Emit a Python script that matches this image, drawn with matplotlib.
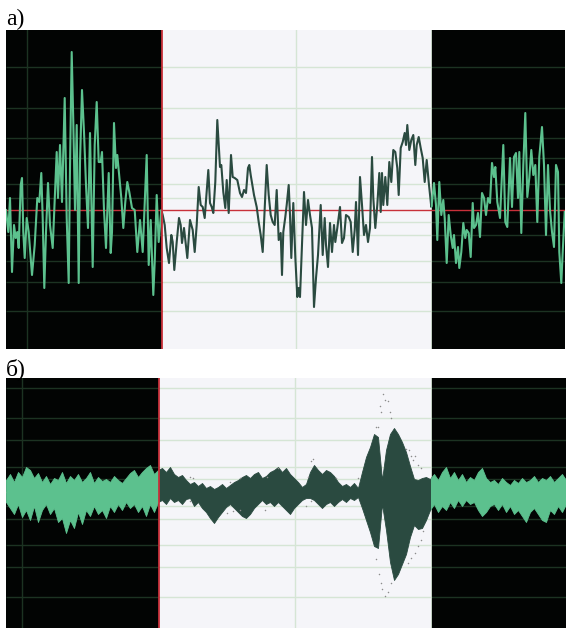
import numpy as np
import matplotlib.pyplot as plt
from matplotlib.patches import Rectangle

# colours
black_bg = '#020403'
light_bg = '#f5f5f9'
grid_dark = '#1c3322'
grid_light = '#d5e5d5'
red = '#c8303a'
green = '#5cc18e'
dark = '#2a4a40'

## а) raw signal: left part, analysis window, right part ##
a_left_t = [6.0, 8.3, 10, 12, 14, 15.7, 17.3, 18.7, 20.7, 22, 23.3, 24.7, 26.7, 28.7, 32, 34.7,
            37.3, 39.3, 41.3, 42.7, 44.3, 46, 48, 50, 52.7, 55.3, 56.7, 58, 60, 62, 64.7, 66.7,
            68.7, 70, 71.7, 73.3, 75, 76.7, 78.7, 80, 82, 84, 86, 88, 90, 92.7, 94.7, 96.7,
            98.7, 100.7, 102, 104, 106, 108.7, 110.7, 112, 114, 116, 117.3, 119.3, 121.3, 123.3,
            125.3, 127.3, 129.3, 132, 134.7, 137.3, 140, 142.7, 146.7, 148.7, 150.7, 153.3,
            154.7, 156.7, 158.7, 161.3]
a_left_v = [0, -22, 12, -62, -15, -28, -22, -38, 25, 32, -22, -48, -8, -22, -65, -35,
            12, 8, 37, -8, -78, -22, 27, -15, -38, 25, 58, 12, 65, 8, 112, -8,
            -73, 42, 158, 88, 0, 85, -73, 48, 120, 78, 25, -18, 77, -57, 65, 108,
            48, 48, 58, 0, -38, 37, -43, -22, 87, 42, 55, 33, 12, -18,
            8, 28, 18, 2, 0, -42, -10, -42, 55, -55, -10, -85,
            -52, 15, -32, 0]

a_mid_t = [162.7, 164.7, 166.7, 169, 171.3, 172.7, 174.3, 176.7, 179, 180.7, 182, 184, 185.3,
           187.3, 190, 192.7, 194.7, 196.7, 198.7, 200.7, 202.7, 204.7, 206.7, 208.3, 210,
           211.7, 213.3, 215.3, 217.3, 218.7, 220, 221.3, 223.3, 225.3, 226.7, 228.7, 231,
           232.7, 234.7, 237.3, 240, 242, 244, 246, 248, 249.3, 250.7, 252, 254, 256.7, 258.7,
           260.7, 262.7, 264.7, 266.7, 268.7, 270.7, 272.7, 274.7, 276.7, 278.7, 280.7, 282,
           283.3, 285.3, 286.7, 288.7, 290, 291.3, 293.3, 295.3, 297.3, 298.7, 300, 302, 304,
           306, 308, 310, 312, 314, 316, 318, 320.7, 322.7, 324.7, 326, 328, 330, 332, 334,
           335.3, 337.3, 340, 342, 344, 346, 348.7, 350.7, 352.7, 354.7, 356, 358, 360, 362,
           364, 366, 368, 370, 372, 373.3, 375.3, 377.3, 379.3, 380.7, 382, 383.3, 385.3,
           387.3, 389.3, 391.3, 393.3, 395.3, 397.3, 398.7, 400.7, 402.7, 404.7, 406, 407.3,
           409.3, 411.3, 413.3, 415.3, 416.7, 418.7, 420.7, 422.7, 424.7, 426.7, 428.7, 431.3]
a_mid_v = [-5, -15, -38, -53, -25, -32, -60, -32, -8, -15, -33, -18, -30,
           -48, -10, -20, -42, -15, 23, 5, 3, -8, 18, 40, 7,
           3, -3, 28, 90, 65, 43, 45, 18, 2, 30, -3, 55,
           33, 32, 30, 17, 13, 20, 17, 42, 45, 35, 27, 15, 3, -12,
           -25, -42, 2, 45, 15, -5, -12, -15, 20, -30, -23, -65,
           -22, -7, 5, 25, -5, -48, 7, -47, -87, -78, -87, -35, 18,
           -15, 10, -5, -18, -97, -68, -45, 5, -45, -8, -35, -57, -13, -42, -15,
           -32, -18, 3, -33, -28, -5, -7, -12, -42, -20, 8, -45, 33, 5,
           -25, -15, -32, -18, 53, 12, -18, 5, 37, -2, 37, 5, 33,
           5, 48, 28, 60, 58, 42, 15, 62, 68, 77, 65, 85,
           60, 70, 75, 45, 65, 73, 62, 52, 28, 50, 28, 3]

a_right_t = [431.7, 434, 436, 437.3, 439.3, 441.3, 443.3, 444.7, 446.7, 448.7, 450.7, 452.7, 454,
             456, 458, 459.3, 461.3, 463.3, 465.3, 466.7, 468.7, 470.7, 472.7, 474, 476, 478,
             480, 482, 484, 486, 488, 490, 492, 494, 495.3, 497.3, 500, 503.3, 505.3, 507.3,
             510, 512, 514, 516, 518, 519.3, 521.3, 523.3, 525.3, 527.3, 529.3, 531.3, 533.3,
             535.3, 537.3, 539.3, 542, 544, 546, 548, 550, 552, 554, 556, 558, 559.3, 561.3,
             562.7, 564.7]
a_right_v = [5, 27, 5, -30, 28, -5, 10, -8, -53, -5, -25, -38, -25,
             -53, -37, -58, -42, -13, -28, -20, -23, -47, 7, -18, -15, -3,
             -27, 17, 12, -5, 12, 7, 47, 33, 43, 8, -8, 65, -12, -17,
             52, 3, 53, 57, 12, 58, -23, 45, 97, 13, 32, 60, 35,
             45, -12, 53, 83, 45, -25, 45, 0, -22, -37, 45, 38, -42, -73,
             -42, -2]

a_grid = [143, 102, 72, 52, 26, 12, -12, -25, -51, -72, -101]
a_vgrid = [27, 296]

## б) envelope of the filtered signal, one value every 4 samples ##
b_t0, b_dt = 6, 4
b_upper = [12, 18, 10, 20, 15, 25, 22, 14, 19, 10, 16, 8, 14, 12, 20, 9, 16, 12, 18, 10,
           14, 20, 9, 15, 11, 13, 10, 16, 12, 9, 14, 19, 22, 15, 20, 24, 27, 18, 22,
           24, 20, 25, 18, 15, 17, 12, 8, 10, 6, 9, 4, 6, 3, 5, 8, 4, 7, 10, 12,
           15, 17, 14, 18, 20, 14, 16, 20, 22, 25, 20, 24, 18, 14, 10, 5, 8, 20, 27,
           22, 18, 22, 20, 16, 10, 6, 8, 5, 9, 4, 20, 35, 45, 58, 55, 12, 42, 58,
           64, 58, 50, 40, 26, 13, 12, 14, 15, 13,
           18, 12, 20, 25, 14, 20, 12, 18, 10, 15, 12, 20, 24, 14, 10, 12, 8, 14,
           10, 7, 12, 9, 14, 10, 12, 16, 10, 14, 12, 16, 10, 14, 18, 12]
b_lower = [-10, -16, -22, -12, -25, -18, -28, -14, -30, -18, -12, -22, -16, -30, -26, -41,
           -28, -36, -20, -32, -18, -24, -14, -22, -18, -26, -14, -20, -12, -18, -10, -16,
           -12, -20, -14, -24, -12, -20, -10,
           -8, -12, -6, -10, -8, -12, -7, -6, -14, -10, -16, -20, -26, -31, -25, -20,
           -15, -12, -16, -20, -24, -26, -22, -16, -12, -8, -12, -10, -14, -10, -14,
           -18, -22, -16, -12, -8, -6, -6, -8, -12, -16, -12, -10, -14, -10, -7, -10,
           -6, -8, -5, -16, -28, -40, -54, -56, -12, -38, -70, -88, -82, -72, -62, -45,
           -33, -37, -36, -28, -18,
           -12, -20, -14, -18, -10, -16, -8, -14, -8, -12, -10, -18, -24, -20, -14, -12,
           -18, -12, -20, -14, -22, -18, -24, -30, -20, -16, -22, -28, -30, -18, -22,
           -14, -20, -12]

dot_t = [383, 385, 388, 380, 381, 390, 391, 376, 378, 406, 409, 411, 415, 413, 418, 421,
         313, 311, 308, 336, 358, 376, 379, 381, 382, 385, 388, 391, 408, 411, 415, 418,
         421, 423, 306, 311, 190, 227, 233, 240, 265, 190, 193, 230, 240, 267, 278]
dot_v = [98, 92, 91, 86, 80, 80, 74, 65, 65, 43, 42, 36, 36, 32, 27, 24,
         33, 31, 15, 14, 14, -67, -82, -91, -97, -104, -100, -91, -71, -66, -61, -54,
         -48, -39, -14, -9, -9, -21, -19, -18, -18, 15, 14, 10, 14, 15, 24]

b_grid = [104, 74, 52, 25, 13, -14, -27, -53, -75, -105]
b_vgrid = [22, 295]

fig = plt.figure(figsize=(5.66, 6.28), dpi=100)
ax_a = fig.add_axes([6 / 566, 1 - 349 / 628, 559 / 566, 319 / 628])
ax_b = fig.add_axes([6 / 566, 0, 560 / 566, 250 / 628])


def setup(ax, xlim, ylim, win, grid, vgrid):
    ax.set_xlim(xlim)
    ax.set_ylim(ylim)
    ax.set_facecolor(light_bg)
    ax.axvspan(xlim[0], win[0], color=black_bg, lw=0, zorder=0)
    ax.axvspan(win[1], xlim[1], color=black_bg, lw=0, zorder=0)
    for g in grid:
        ax.hlines(g, win[0], win[1], color=grid_light, lw=1, zorder=1)
        ax.hlines(g, xlim[0], win[0], color=grid_dark, lw=1, zorder=1)
        ax.hlines(g, win[1], xlim[1], color=grid_dark, lw=1, zorder=1)
    for v in vgrid:
        c = grid_light if win[0] < v < win[1] else grid_dark
        ax.axvline(v, color=c, lw=1, zorder=1)
    ax.axvline(win[1], color='#c9d6c9', lw=0.7, zorder=1)
    ax.axhline(0, color=red, lw=1, zorder=2)
    ax.axvline(win[0], color=red, lw=1.3, zorder=6)
    ax.set_xticks([])
    ax.set_yticks([])
    for s in ax.spines.values():
        s.set_visible(False)


def parts(ax, xlim, win):
    # (clip rectangle, colour) for black / window / black
    out = []
    for x0, x1, c in [(xlim[0], win[0], green), (win[0], win[1], dark), (win[1], xlim[1], green)]:
        out.append((Rectangle((x0, -1000), x1 - x0, 2000, transform=ax.transData), c))
    return out


# а)
a_xlim, a_win = (6, 565), (162, 431)
setup(ax_a, a_xlim, (-139, 180), a_win, a_grid, a_vgrid)
a_t = np.concatenate([a_left_t, a_mid_t, a_right_t])
a_v = np.concatenate([a_left_v, a_mid_v, a_right_v])
for rect, c in parts(ax_a, a_xlim, a_win):
    ln, = ax_a.plot(a_t, a_v, color=c, lw=1.5, zorder=3, solid_joinstyle='round')
    ln.set_clip_path(rect)

# б)
b_xlim, b_win = (6, 566), (159, 431)
setup(ax_b, b_xlim, (-136, 114), b_win, b_grid, b_vgrid)
b_t = b_t0 + b_dt * np.arange(len(b_upper))
for rect, c in parts(ax_b, b_xlim, b_win):
    f = ax_b.fill_between(b_t, b_lower, b_upper, color=c, lw=0.6, zorder=3)
    f.set_clip_path(rect)
ax_b.scatter(dot_t, dot_v, s=1.2, color='#8c8c8c', lw=0, zorder=4)

fig.text(6 / 566, 1 - 25 / 628, 'а)', fontsize=17, family='Liberation Serif', va='baseline')
fig.text(6 / 566, 1 - 375 / 628, 'б)', fontsize=17, family='Liberation Serif', va='baseline')

fig.savefig('out.png', dpi=100, facecolor='white')
